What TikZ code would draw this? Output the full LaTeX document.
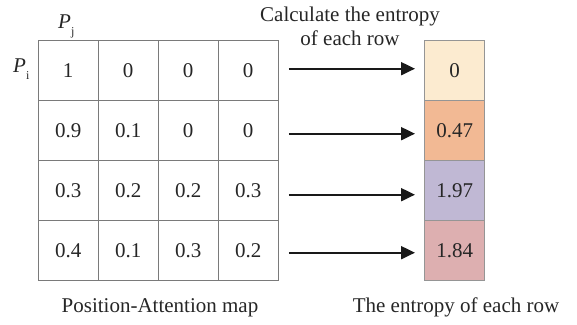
\documentclass[tikz,border=0pt]{standalone}
\usepackage{fontspec}
\setmainfont{Liberation Serif}
\usetikzlibrary{arrows.meta}
\definecolor{gridgray}{HTML}{7A7A7A}
\definecolor{entA}{HTML}{FCEBD0}
\definecolor{entB}{HTML}{F2B994}
\definecolor{entC}{HTML}{C0B8D4}
\definecolor{entD}{HTML}{DDAFB0}
\tikzset{
  txt/.style={font=\fontsize{21}{24}\selectfont, text=black!85},
  cell/.style={draw=gridgray, line width=1.4pt, minimum width=60pt, minimum height=60pt,
    inner sep=0pt, anchor=north west, txt},
  ecell/.style={cell, draw=gridgray!80},
  arr/.style={line width=2pt, draw=black!90, -{Triangle[length=14pt,width=13pt]}},
}
\newcommand{\Pidx}[1]{{\itshape P}\raisebox{-7pt}{\fontsize{12}{12}\selectfont #1}}
\begin{document}
\begin{tikzpicture}[x=1pt,y=-1pt]
\path[use as bounding box] (0,0) rectangle (577,324);
% attention map grid
\foreach \r/\a/\b/\c/\d [count=\i] in {0/1/0/0/0, 1/0.9/0.1/0/0, 2/0.3/0.2/0.2/0.3, 3/0.4/0.1/0.3/0.2}{
  \node[cell] (m-\i-1) at (37.5, 40+\r*60) {\a};
  \node[cell] (m-\i-2) at (97.5, 40+\r*60) {\b};
  \node[cell] (m-\i-3) at (157.5, 40+\r*60) {\c};
  \node[cell] (m-\i-4) at (217.5, 40+\r*60) {\d};
}
% entropy column
\node[ecell, fill=entA] (e-1) at (424, 40)  {0};
\node[ecell, fill=entB] (e-2) at (424, 100) {0.47};
\node[ecell, fill=entC] (e-3) at (424, 160) {1.97};
\node[ecell, fill=entD] (e-4) at (424, 220) {1.84};
% arrows from each row to its entropy
\foreach \i/\dy in {1/-2, 2/3, 3/4, 4/2}{
  \draw[arr] ([xshift=10pt,yshift=-\dy pt]m-\i-4.east) -- ([xshift=-9pt,yshift=-\dy pt]e-\i.west);
}
% axis labels
\node[txt, anchor=base west, inner sep=0pt] (pj) at (58, 28) {\Pidx{j}};
\node[txt, anchor=base west, inner sep=0pt] (pi) at (13, 72) {\Pidx{i}};
% captions
\node[txt, inner sep=0pt, anchor=base] (calc1) at (350, 21) {Calculate the entropy};
\node[txt, inner sep=0pt, anchor=base] (calc2) at (350, 45) {of each row};
\node[txt, inner sep=0pt, anchor=base] (cap1) at (160, 312) {Position-Attention map};
\node[txt, inner sep=0pt, anchor=base] (cap2) at (456, 312) {The entropy of each row};
\end{tikzpicture}
\end{document}
